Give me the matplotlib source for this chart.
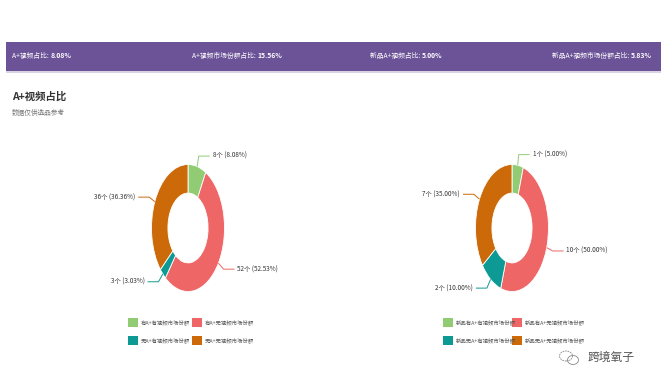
import matplotlib
matplotlib.use("Agg")
import matplotlib.pyplot as plt
from matplotlib.patches import Rectangle, Ellipse
import numpy as np

plt.rcParams['font.family'] = ['Noto Sans CJK SC', 'DejaVu Sans']

W, H = 667, 390

# ---- data ----
header_labels = ["A+视频占比", "A+视频市场份额占比", "新品A+视频占比", "新品A+视频市场份额占比"]
header_values = [8.08, 15.56, 5.00, 5.83]

left_names = ["有A+有视频市场份额", "有A+无视频市场份额", "无A+有视频市场份额", "无A+无视频市场份额"]
left_counts = [8, 52, 3, 36]
right_names = ["新品有A+有视频市场份额", "新品有A+无视频市场份额", "新品无A+有视频市场份额", "新品无A+无视频市场份额"]
right_counts = [1, 10, 2, 7]

colors = ["#91cc75", "#ee6666", "#0e9a94", "#cc6a0a"]

title = "A+视频占比"
subtitle = "数据仅供选品参考"

fig = plt.figure(figsize=(W / 100, H / 100), dpi=100)
fig.patch.set_facecolor("white")
renderer = fig.canvas.get_renderer()


def fx(x):
    return x / W


def fy(y):
    return 1 - y / H


# header band
fig.patches.append(Rectangle((fx(6), fy(71)), fx(655), 29 / H, transform=fig.transFigure,
                             facecolor="#6c5398", edgecolor="none", zorder=0))
fig.patches.append(Rectangle((fx(6), fy(72.5)), fx(655), 1.2 / H, transform=fig.transFigure,
                             facecolor="#d9d4e3", edgecolor="none", zorder=0))
hx = [12, 192, 370, 552]
for x, lab, v in zip(hx, header_labels, header_values):
    t = fig.text(fx(x), fy(56), f"{lab}: ", color="white", fontsize=4.9, va="center", ha="left")
    bb = t.get_window_extent(renderer=renderer)
    fig.text(bb.x1 / W, fy(56), f"{v:.2f}%", color="white", fontsize=4.9,
             fontweight="bold", va="center", ha="left")

fig.text(fx(12), fy(97), title, fontsize=7.5, fontweight="bold", color="#333333", va="center")
fig.text(fx(12), fy(113), subtitle, fontsize=4.8, color="#777777", va="center")


def donut(cx, cy, counts, names, legend_x, legend_x2, legend_y):
    rx, ry = 36.5, 63.5
    hw, hh = 110, 90
    ax = fig.add_axes([fx(cx - hw), fy(cy + hh), 2 * hw / W, 2 * hh / H])
    ax.pie(counts, colors=colors, startangle=90, counterclock=False,
           wedgeprops=dict(width=0.45, edgecolor="white", linewidth=0.6))
    ax.set_xlim(-hw / rx, hw / rx)
    ax.set_ylim(-hh / ry, hh / ry)
    ax.set_aspect("auto")
    ax.axis("off")
    total = sum(counts)
    cum = 0
    for c, col in zip(counts, colors):
        mid = (cum + c / 2) / total * 2 * np.pi
        cum += c
        s, co = np.sin(mid), np.cos(mid)
        p0 = (s * 1.0, co * 1.0)
        p1 = (s * 1.17, co * 1.17)
        side = 1 if s >= 0 else -1
        p2 = (p1[0] + side * 0.3, p1[1])
        ax.plot([p0[0], p1[0], p2[0]], [p0[1], p1[1], p2[1]], color=col, lw=0.7,
                solid_capstyle="butt", clip_on=False)
        ax.text(p2[0] + side * 0.08, p2[1], f"{c}个 ({c / total * 100:.2f}%)",
                fontsize=4.6, color="#333333", ha="left" if side > 0 else "right",
                va="center")
    # legend
    xs = [legend_x, legend_x2]
    for i, (nm, col) in enumerate(zip(names, colors)):
        row, colm = divmod(i, 2)
        x = xs[colm]
        y = legend_y + row * 18
        fig.patches.append(Rectangle((fx(x), fy(y + 4.5)), 10 / W, 9 / H,
                                     transform=fig.transFigure, facecolor=col,
                                     edgecolor="none"))
        fig.text(fx(x + 13), fy(y), nm, fontsize=3.9, color="#555555", va="center")


donut(188, 228, left_counts, left_names, 128, 192, 322)
donut(512, 228, right_counts, right_names, 443, 512, 322)

# watermark
fig.text(fx(588), fy(357), "跨境氧子", fontsize=8.5, color="#555555", va="center")
wax = fig.add_axes([fx(555), fy(368), 30 / W, 22 / H])
wax.set_xlim(0, 30)
wax.set_ylim(0, 22)
wax.add_patch(Ellipse((11, 12), 13, 10, fill=False, ec="#888888", lw=0.6, ls=(0, (2, 1))))
wax.add_patch(Ellipse((18, 8), 11, 9, fill=False, ec="#888888", lw=0.6))
wax.axis("off")

fig.savefig("out.png", dpi=100, facecolor="white")
